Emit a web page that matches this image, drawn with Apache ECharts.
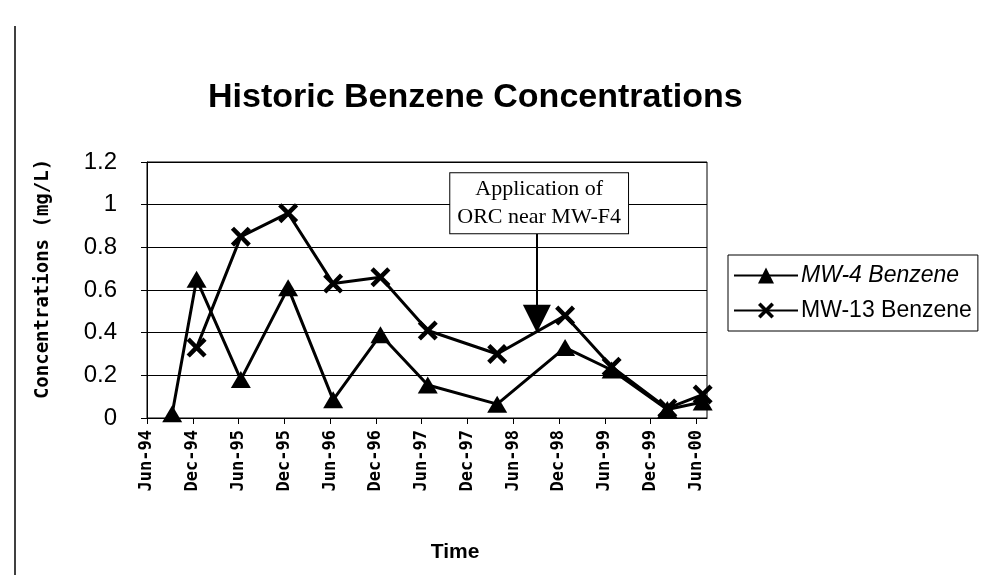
<!DOCTYPE html>
<html>
<head>
<meta charset="utf-8">
<script src="https://cdn.jsdelivr.net/npm/echarts@6/dist/echarts.min.js"></script>
<style>
  html, body { margin: 0; padding: 0; background: #fff; }
  #chart { width: 985px; height: 575px; }
</style>
</head>
<body>
<div id="chart"></div>
<script>
// sample dates and concentrations (mg/L)
const mw4Dates = ['1994-09-10', '1994-12-16', '1995-06-10', '1995-12-16', '1996-06-13', '1996-12-19',
                  '1997-06-25', '1998-03-28', '1998-12-25', '1999-06-28', '2000-02-07', '2000-06-26'];
const mw4Values = [0.02, 0.65, 0.18, 0.61, 0.085, 0.39, 0.155, 0.065, 0.33, 0.225, 0.04, 0.075];

const mw13Dates = ['1994-12-16', '1995-06-10', '1995-12-16', '1996-06-13', '1996-12-19', '1997-06-25',
                   '1998-03-28', '1998-12-25', '1999-06-28', '2000-02-07', '2000-06-26'];
const mw13Values = [0.33, 0.85, 0.96, 0.63, 0.66, 0.41, 0.30, 0.48, 0.24, 0.045, 0.11];

const tickLabels = ['Jun-94', 'Dec-94', 'Jun-95', 'Dec-95', 'Jun-96', 'Dec-96', 'Jun-97',
                    'Dec-97', 'Jun-98', 'Dec-98', 'Jun-99', 'Dec-99', 'Jun-00'];

// annotation (month index / value); arrow end is the centre of the head
const noteText = 'Application of\nORC near MW-F4';
const noteBox = [51.4, 1.007];
const arrowFrom = [51.1, 0.866];
const arrowTo = [51.1, 0.465];

// months since Jun-94
const toMonth = (s) => {
    const [y, m, d] = s.split('-').map(Number);
    return (y - 1994) * 12 + (m - 6) + (d - 1) / 30;
};

const mw4Data = mw4Dates.map((d, i) => [toMonth(d), mw4Values[i]]);
const mw13Data = mw13Dates.map((d, i) => [toMonth(d), mw13Values[i]]);

const crossPath = 'path://M0,1.6 L1.6,0 L5,3.4 L8.4,0 L10,1.6 L6.6,5 L10,8.4 L8.4,10 L5,6.6 L1.6,10 L0,8.4 L3.4,5 Z';

const chart = echarts.init(document.getElementById('chart'));

const option = {
    backgroundColor: '#fff',
    animation: false,
    title: {
        text: 'Historic Benzene Concentrations',
        left: 203,
        top: 76,
        textStyle: { fontFamily: 'Liberation Sans', fontWeight: 'bold', fontSize: 34, color: '#000' }
    },
    legend: {
        orient: 'vertical',
        left: 728,
        top: 255,
        padding: [9, 6, 9, 5],
        itemGap: 12,
        itemWidth: 64,
        itemHeight: 20,
        borderColor: '#000',
        borderWidth: 1,
        textStyle: { fontFamily: 'Liberation Sans', fontSize: 23, color: '#000', padding: [0, 0, 0, -2] },
        data: [
            { name: 'MW-4 Benzene', textStyle: { fontStyle: 'italic' } },
            { name: 'MW-13 Benzene' }
        ]
    },
    grid: {
        left: 147,
        right: 278,
        top: 162,
        bottom: 157,
        show: true,
        borderColor: '#000',
        borderWidth: 1
    },
    xAxis: {
        type: 'value',
        min: 0,
        max: 73.4,
        interval: 6,
        name: 'Time',
        nameLocation: 'middle',
        nameGap: 124,
        nameTextStyle: { fontFamily: 'Liberation Sans', fontWeight: 'bold', fontSize: 21, color: '#000', padding: [0, 0, 0, 56] },
        axisLine: { lineStyle: { color: '#000', width: 1 } },
        axisTick: { show: true, length: 6, lineStyle: { color: '#000' } },
        splitLine: { show: false },
        axisLabel: {
            rotate: 90,
            margin: 12,
            fontFamily: 'DejaVu Sans Mono',
            fontWeight: 'bold',
            fontSize: 17,
            color: '#000',
            showMaxLabel: false,
            formatter: (v) => tickLabels[Math.round(v / 6)] || ''
        }
    },
    yAxis: {
        type: 'value',
        min: 0,
        max: 1.2,
        interval: 0.2,
        name: 'Concentrations (mg/L)',
        nameLocation: 'middle',
        nameGap: 94,
        nameTextStyle: { fontFamily: 'DejaVu Sans Mono', fontWeight: 'bold', fontSize: 19, color: '#000', padding: [0, 0, 0, 22] },
        axisLine: { show: true, lineStyle: { color: '#000', width: 1 } },
        axisTick: { show: true, length: 6, lineStyle: { color: '#000' } },
        splitLine: { show: true, lineStyle: { color: '#000', width: 1 } },
        axisLabel: {
            margin: 30,
            fontFamily: 'Liberation Sans',
            fontSize: 24,
            color: '#000',
            formatter: (v) => String(Math.round(v * 10) / 10)
        }
    },
    graphic: [
        {
            type: 'line',
            shape: { x1: 15, y1: 26, x2: 15, y2: 575 },
            style: { stroke: '#000', lineWidth: 1.5 }
        }
    ],
    series: [
        {
            name: 'MW-4 Benzene',
            type: 'line',
            data: mw4Data,
            symbol: 'triangle',
            symbolSize: [20, 17],
            lineStyle: { color: '#000', width: 3 },
            itemStyle: { color: '#000' },
            markLine: {
                silent: true,
                symbol: ['none', 'triangle'],
                symbolSize: 28,
                lineStyle: { color: '#000', width: 2, type: 'solid' },
                label: { show: false },
                data: [[{ coord: arrowFrom }, { coord: arrowTo }]]
            },
            markPoint: {
                silent: true,
                symbol: 'rect',
                symbolSize: 0,
                data: [{ coord: noteBox }],
                label: {
                    show: true,
                    position: 'inside',
                    formatter: noteText,
                    fontFamily: 'Liberation Serif',
                    fontSize: 22,
                    lineHeight: 28,
                    color: '#000',
                    align: 'center',
                    backgroundColor: '#fff',
                    borderColor: '#000',
                    borderWidth: 1,
                    padding: [2, 7, 2, 7]
                }
            }
        },
        {
            name: 'MW-13 Benzene',
            type: 'line',
            data: mw13Data,
            symbol: crossPath,
            symbolSize: 20,
            lineStyle: { color: '#000', width: 3 },
            itemStyle: { color: '#000' }
        }
    ]
};

chart.setOption(option);
</script>
</body>
</html>
